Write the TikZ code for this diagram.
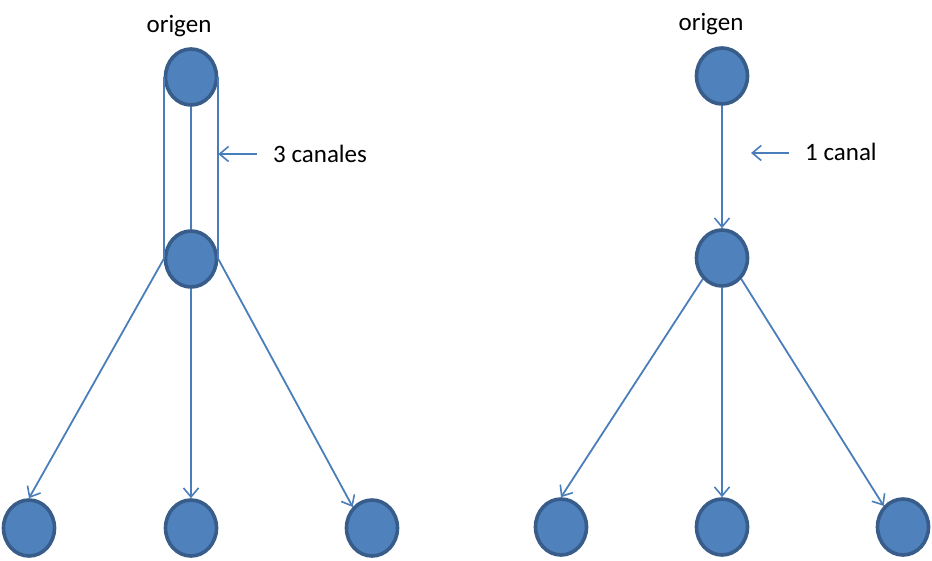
\documentclass[tikz,border=0pt]{standalone}
\usepackage{fontspec}
\setmainfont{Carlito}
\usepackage{tikz}
\usetikzlibrary{shapes.geometric,arrows.meta}
\definecolor{nodefill}{RGB}{79,129,189}
\definecolor{nodeline}{RGB}{56,93,138}
\definecolor{linkcol}{RGB}{74,126,187}

\begin{document}
\begin{tikzpicture}[x=1pt,y=-1pt,
        station/.style={ellipse,fill=nodefill,draw=nodeline,line width=3.6pt,
            minimum width=51pt,minimum height=56pt,inner sep=0pt},
        link/.style={draw=linkcol,line width=1.8pt},
        linkarrow/.style={link,-{Straight Barb[length=9pt,width=15pt,line width=1.6pt]}},
        lbl/.style={font=\fontsize{25}{29}\selectfont,inner sep=0pt}]
            \useasboundingbox (0,0) rectangle (932,560);
            % left: three channels
            \node[station] (ltop) at (191,77) {};
            \node[station] (lmid) at (191,259) {};
            \node[station] (lbl1) at (29,528) {};
            \node[station] (lbl2) at (191,528) {};
            \node[station] (lbl3) at (372,528) {};
            \node[lbl,anchor=base] (lorig) at (179,32) {origen};
            \node[lbl,anchor=base west] (lcan) at (273,162) {3 canales};
            \draw[link] (ltop.west)--(lmid.west);
            \draw[link] (ltop.south)--(lmid.north);
            \draw[link] (ltop.east)--(lmid.east);
            \draw[linkarrow] (lmid.west)--(lbl1.north);
            \draw[linkarrow] (lmid.south)--(lbl2.north);
            \draw[linkarrow] (lmid.east)--(lbl3.north west);
            \coordinate (lcanfrom) at (257,154);
            \draw[linkarrow] (lcanfrom)--(lcanfrom -| ltop.east);
            % right: one channel
            \node[station] (rtop) at (722,76) {};
            \node[station] (rmid) at (722,258) {};
            \node[station] (rbl1) at (561,527) {};
            \node[station] (rbl2) at (722,527) {};
            \node[station] (rbl3) at (903,527) {};
            \node[lbl,anchor=base] (rorig) at (711,30) {origen};
            \node[lbl,anchor=base west] (rcan) at (805,160) {1 canal};
            \draw[linkarrow] (rtop.south)--(rmid.north);
            \draw[linkarrow] (rmid.south west)--(rbl1.north);
            \draw[linkarrow] (rmid.south)--(rbl2.north);
            \draw[linkarrow] (rmid.south east)--(rbl3.north west);
            \coordinate (rcanfrom) at (789,153);
            \coordinate (rcanto) at (751,153);
            \draw[linkarrow] (rcanfrom)--(rcanto);
        \end{tikzpicture}
\end{document}
